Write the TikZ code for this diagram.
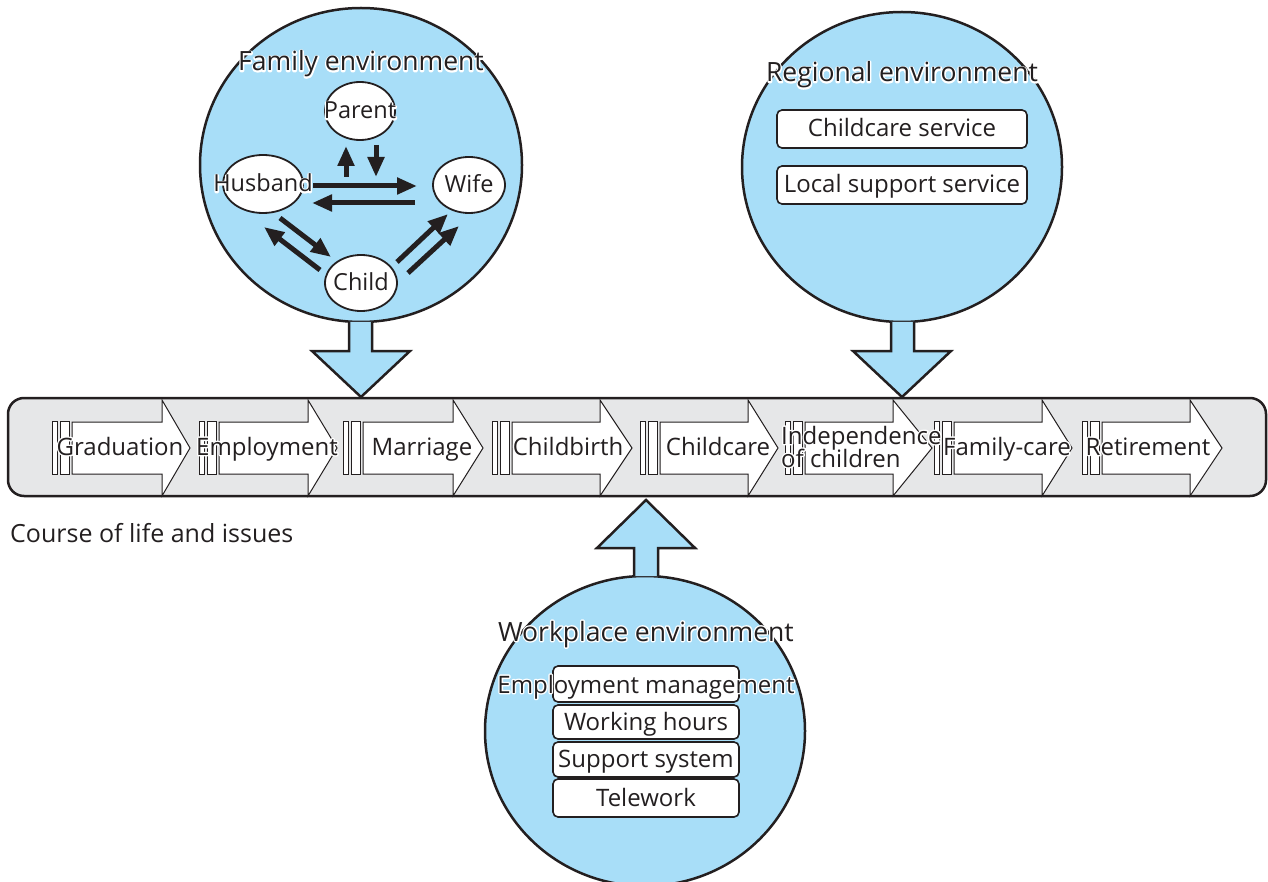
\documentclass[tikz,border=0pt]{standalone}
\usepackage{fontspec}
\setmainfont{Open Sans}
\usetikzlibrary{arrows.meta,shapes.geometric}
\definecolor{envblue}{HTML}{A8DEF8}
\definecolor{bargray}{HTML}{E6E7E8}
\definecolor{ink}{HTML}{231F20}
\newcommand{\halo}[1]{\leavevmode\rlap{\special{pdf:literal direct 1 Tr 2.8 w 1 j 1 1 1 RG}#1\special{pdf:literal direct 0 Tr 0.137 0.122 0.125 RG}}#1}
\tikzset{
  envshape/.style={draw=ink, line width=2.5pt, fill=envblue},
  bigarrow/.style={draw=ink, line width=2.5pt, fill=envblue, line join=miter},
  member/.style={ellipse, draw=ink, line width=1.8pt, fill=white, inner sep=0pt},
  rel/.style={draw=ink, line width=5pt, -{Triangle[length=20pt,width=16pt]}},
  itembox/.style={draw=ink, line width=1.6pt, fill=white, rounded corners=5pt},
  lifearrow/.style={draw=ink, line width=1pt, fill=white, line join=miter},
  barpiece/.style={draw=ink, line width=0.9pt, fill=white},
  lbl/.style={text=ink, font=\fontsize{24}{25}\selectfont, inner sep=0pt, anchor=base},
  title/.style={text=ink, font=\fontsize{26.5}{28}\selectfont, inner sep=0pt, anchor=base},
  memberlbl/.style={text=ink, font=\fontsize{23.5}{25}\selectfont, inner sep=0pt, anchor=base},
}
\newcommand{\lifestep}[3]{% #1 bars x, #2 head base x, #3 tip x
  \draw[barpiece] (#1,421) rectangle (#1+5,474);
  \draw[barpiece] (#1+8,421) rectangle (#1+17,474);
  \draw[lifearrow] (#1+20,422) -- (#2,422) -- (#2,400) -- (#3,448) -- (#2,496) -- (#2,474) -- (#1+20,474) -- cycle;
}
\begin{document}
\begin{tikzpicture}[x=1pt,y=-1pt]
\useasboundingbox (0,0) rectangle (1268,882);

% ---------------- environment circles ----------------
\path[envshape] (361,165) ellipse [x radius=161, y radius=157];
\path[envshape] (902,167) ellipse [x radius=160, y radius=155];
\path[envshape] (645,731) ellipse [x radius=160, y radius=155];

% ---------------- big blue arrows ----------------
\draw[bigarrow] (349,322) -- (349,351) -- (312,351) -- (361,397) -- (410,351) -- (372,351) -- (372,322);
\draw[bigarrow] (891,322) -- (891,351) -- (853,351) -- (902,397) -- (951,351) -- (914,351) -- (914,322);
\draw[bigarrow] (634,576) -- (634,548) -- (597,548) -- (646,500) -- (695,548) -- (658,548) -- (658,576);

% ---------------- life course bar ----------------
\draw[draw=ink, line width=2.5pt, fill=bargray, rounded corners=16pt] (8,398) rectangle (1266,496);

\lifestep{52}{162}{190}
\lifestep{199}{308}{337}
\lifestep{343}{453}{483}
\lifestep{492}{600}{632}
\lifestep{640}{748}{778}
\lifestep{785}{893}{932}
\lifestep{934}{1042}{1072}
\lifestep{1082}{1190}{1222}

\node[lbl] (graduation) at (120,455) {\halo{Graduation}};
\node[lbl] (employment) at (267,455) {\halo{Employment}};
\node[lbl] (marriage) at (422,455) {\halo{Marriage}};
\node[lbl] (childbirth) at (568,455) {\halo{Childbirth}};
\node[lbl] (childcare) at (718,455) {\halo{Childcare}};
\node[lbl, anchor=base west] (indep1) at (781,444) {\halo{Independence}};
\node[lbl, anchor=base west] (indep2) at (781,467) {\halo{of children}};
\node[lbl] (familycare) at (1007,455) {\halo{Family-care}};
\node[lbl] (retirement) at (1148,455) {\halo{Retirement}};

\node[lbl, font=\fontsize{25}{26}\selectfont, anchor=base west] (course) at (10,542) {Course of life and issues};

% ---------------- family environment ----------------
\node[title] (famtitle) at (361,71) {\halo{Family environment}};
\node[member, minimum width=70pt, minimum height=58pt] (parent) at (360,111) {};
\node[member, minimum width=80pt, minimum height=58pt] (husband) at (263,184) {};
\node[member, minimum width=72pt, minimum height=56pt] (wife) at (469,185) {};
\node[member, minimum width=72pt, minimum height=56pt] (child) at (361,283) {};
\node[memberlbl] (parentlbl) at ([yshift=-8pt]parent.center) {\halo{Parent}};
\node[memberlbl] (husbandlbl) at ([yshift=-8pt]husband.center) {\halo{Husband}};
\node[memberlbl] (wifelbl) at ([yshift=-8pt]wife.center) {\halo{Wife}};
\node[memberlbl] (childlbl) at ([yshift=-8pt]child.center) {\halo{Child}};

\coordinate (pu1) at (346,177); \coordinate (pu2) at (346,146);
\coordinate (pd1) at (376,145); \coordinate (pd2) at (376,177);
\coordinate (hw1) at (313,186); \coordinate (hw2) at (417,186);
\coordinate (wh1) at (415,203); \coordinate (wh2) at (312,203);
\coordinate (hc1) at (280,218); \coordinate (hc2) at (331,257);
\coordinate (ch1) at (320,270); \coordinate (ch2) at (264,227);
\coordinate (cw1) at (397,262); \coordinate (cw2) at (448,214);
\coordinate (cx1) at (408,273); \coordinate (cx2) at (459,226);
\draw[rel] (pu1) -- (pu2);
\draw[rel] (pd1) -- (pd2);
\draw[rel] (hw1) -- (hw2);
\draw[rel] (wh1) -- (wh2);
\draw[rel] (hc1) -- (hc2);
\draw[rel] (ch1) -- (ch2);
\draw[rel] (cw1) -- (cw2);
\draw[rel] (cx1) -- (cx2);

% ---------------- regional environment ----------------
\node[title] (regtitle) at (902,82) {\halo{Regional environment}};
\draw[itembox] (777,110) rectangle (1027,148);
\node[lbl] (ccs) at (902,137) {Childcare service};
\draw[itembox] (777,166) rectangle (1027,204);
\node[lbl] (lss) at (902,193) {Local support service};

% ---------------- workplace environment ----------------
\node[title] (worktitle) at (646,641) {\halo{Workplace environment}};
\draw[itembox] (553,666) rectangle (739,702);
\draw[itembox] (553,705) rectangle (739,739);
\draw[itembox] (553,742) rectangle (739,777);
\draw[itembox] (553,779) rectangle (739,817);
\node[lbl] (empman) at (646,693) {\halo{Employment management}};
\node[lbl] (workhours) at (646,730) {Working hours};
\node[lbl] (support) at (646,767) {Support system};
\node[lbl] (telework) at (646,806) {Telework};
\end{tikzpicture}
\end{document}
